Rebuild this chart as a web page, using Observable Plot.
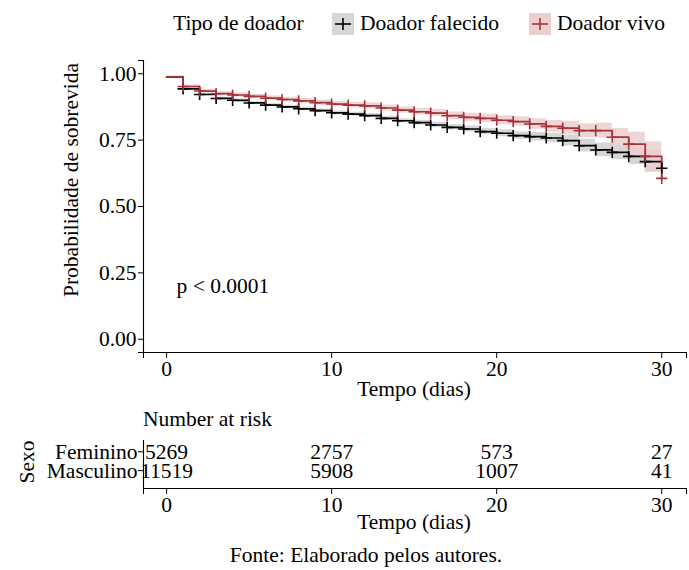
<!DOCTYPE html>
<html>
<head>
<meta charset="utf-8">
<script src="https://cdn.jsdelivr.net/npm/d3@7"></script>
<script src="https://cdn.jsdelivr.net/npm/@observablehq/plot@0.6"></script>
<style>
  body { margin: 0; background: #fff; }
  #wrap { position: relative; width: 689px; height: 570px; font-family: "Liberation Serif", "DejaVu Serif", serif; color: #000; overflow: hidden; }
  .t { position: absolute; white-space: nowrap; font-size: 21.5px; line-height: 1; }
  .svgbox { position: absolute; left: 0; }
</style>
</head>
<body>
<div id="wrap"></div>
<script>
// ---- data ----
const tempo = [0,1,2,3,4,5,6,7,8,9,10,11,12,13,14,15,16,17,18,19,20,21,22,23,24,25,26,27,28,29,30];
const grupos = ["Doador falecido", "Doador vivo"];
const sFalecido = [0.988,0.943,0.922,0.907,0.900,0.890,0.882,0.875,0.868,0.861,0.853,0.848,0.842,0.832,0.823,0.816,0.807,0.798,0.792,0.782,0.776,0.767,0.763,0.758,0.748,0.729,0.713,0.704,0.689,0.669,0.644];
const sVivo     = [0.988,0.952,0.935,0.925,0.920,0.915,0.908,0.903,0.898,0.891,0.886,0.882,0.879,0.871,0.863,0.857,0.852,0.842,0.836,0.832,0.825,0.820,0.811,0.802,0.795,0.786,0.786,0.761,0.735,0.689,0.606];
const icFalecido = [0.003,0.004,0.004,0.005,0.005,0.005,0.005,0.006,0.006,0.006,0.007,0.007,0.007,0.008,0.008,0.009,0.010,0.010,0.011,0.012,0.013,0.014,0.016,0.018,0.020,0.024,0.026,0.028,0.031,0.040,0.045];
const icVivo     = [0.004,0.006,0.007,0.007,0.008,0.008,0.008,0.009,0.009,0.010,0.010,0.010,0.011,0.011,0.012,0.012,0.013,0.014,0.015,0.016,0.017,0.018,0.020,0.022,0.026,0.026,0.028,0.033,0.045,0.055,0.060];
const sexo = ["Feminino", "Masculino"];
const riscoTempo = [0, 10, 20, 30];
const riscoFeminino = [5269, 2757, 573, 27];
const riscoMasculino = [11519, 5908, 1007, 41];
const ticksX = [0, 10, 20, 30];
const ticksY = [0, 0.25, 0.5, 0.75, 1];
const pValor = "p < 0.0001";

// ---- build tables ----
const serieS = [sFalecido, sVivo];
const serieIC = [icFalecido, icVivo];
const km = [];
grupos.forEach((g, gi) => {
  tempo.forEach((t, i) => {
    km.push({grupo: g, t, s: serieS[gi][i], lo: serieS[gi][i] - serieIC[gi][i], hi: serieS[gi][i] + serieIC[gi][i]});
  });
});
const censura = km.filter(d => d.t > 0);
const risco = [];
sexo.forEach((sx, si) => {
  const vals = si === 0 ? riscoFeminino : riscoMasculino;
  riscoTempo.forEach((t, i) => risco.push({sexo: sx, yv: sexo.length - si, t, n: vals[i]}));
});

const lineColors = ["#000000", "#a8323a"];
const bandColors = ["#d6d6d6", "#ebcfcf"];
const xDomain = [-1.4, 31.5];
const FS = 21.5;
const font = {fontFamily: "Liberation Serif, DejaVu Serif, serif", fontSize: FS + "px", background: "#fff", color: "#000"};

const wrap = document.getElementById("wrap");
function addText(txt, left, top, extra) {
  const d = document.createElement("div");
  d.className = "t";
  d.textContent = txt;
  d.style.left = left + "px";
  d.style.top = top + "px";
  if (extra) Object.assign(d.style, extra);
  wrap.appendChild(d);
  return d;
}

// ---- main KM plot ----
const main = Plot.plot({
  width: 689, height: 405,
  marginTop: 60, marginLeft: 143, marginRight: 3, marginBottom: 53,
  style: font,
  x: {domain: xDomain},
  y: {domain: [-0.05, 1.05]},
  color: {domain: grupos, range: lineColors},
  marks: [
    Plot.areaY(km.filter(d => d.grupo === grupos[0]), {x: "t", y1: "lo", y2: "hi", fill: bandColors[0], curve: "step-after"}),
    Plot.areaY(km.filter(d => d.grupo === grupos[1]), {x: "t", y1: "lo", y2: "hi", fill: bandColors[1], fillOpacity: 0.85, curve: "step-after"}),
    Plot.line(km, {x: "t", y: "s", z: "grupo", stroke: "grupo", strokeWidth: 1.7, curve: "step-after"}),
    Plot.dot(censura, {x: "t", y: "s", stroke: "grupo", symbol: "plus", r: 3.7, strokeWidth: 1.6}),
    Plot.text([pValor], {x: 0.6, y: 0.2, text: d => d, textAnchor: "start", fontSize: FS}),
    Plot.ruleX([xDomain[0]], {strokeWidth: 1.1}),
    Plot.ruleY([-0.05], {strokeWidth: 1.1}),
    Plot.axisX({ticks: ticksX, tickSize: 6, tickPadding: 2, label: null, fontSize: FS}),
    Plot.axisX({ticks: xDomain, tickSize: 6, tickFormat: () => "", label: null}),
    Plot.axisY({ticks: ticksY, tickFormat: d3.format(".2f"), tickSize: 5, tickPadding: 2, label: null, fontSize: FS}),
    Plot.axisY({ticks: [-0.05, 1.05], tickSize: 5, tickFormat: () => "", label: null})
  ]
});
main.classList.add("svgbox");
main.style.top = "0px";
wrap.appendChild(main);

// ---- risk table ----
const tabela = Plot.plot({
  width: 689, height: 100,
  marginTop: 10, marginLeft: 143, marginRight: 3, marginBottom: 42,
  style: font,
  x: {domain: xDomain},
  y: {domain: [0.05, 2.6]},
  marks: [
    Plot.text(risco, {x: "t", y: "yv", text: d => String(d.n), fontSize: FS}),
    Plot.ruleX([xDomain[0]], {strokeWidth: 1.1}),
    Plot.ruleY([0.05], {strokeWidth: 1.1}),
    Plot.axisX({ticks: ticksX, tickSize: 6, tickPadding: 2, label: null, fontSize: FS}),
    Plot.axisX({ticks: xDomain, tickSize: 6, tickFormat: () => "", label: null}),
    Plot.axisY({ticks: sexo.map((s, i) => sexo.length - i), tickFormat: v => sexo[sexo.length - v], tickSize: 5, tickPadding: 1, label: null, fontSize: FS})
  ]
});
tabela.classList.add("svgbox");
tabela.style.top = "430px";
wrap.appendChild(tabela);

// ---- texts ----
addText("Tempo (dias)", 414, 379, {transform: "translateX(-50%)"});
addText("Tempo (dias)", 414, 512, {transform: "translateX(-50%)"});
addText("Fonte: Elaborado pelos autores.", 366, 545, {transform: "translateX(-50%)"});
addText("Number at risk", 143, 409);
addText("Probabilidade de sobrevida", 72, 180, {transform: "translate(-50%,-50%) rotate(-90deg)"});
addText("Sexo", 28, 462, {transform: "translate(-50%,-50%) rotate(-90deg)"});

// ---- legend ----
addText("Tipo de doador", 173, 13);
function key(left, bg, col, label) {
  const box = document.createElement("div");
  box.style.cssText = `position:absolute;left:${left}px;top:13px;width:22px;height:22px;background:${bg};`;
  box.innerHTML = `<svg width="22" height="22"><line x1="3" y1="11" x2="19" y2="11" stroke="${col}" stroke-width="1.6"/><line x1="11" y1="5" x2="11" y2="17" stroke="${col}" stroke-width="1.6"/></svg>`;
  wrap.appendChild(box);
  addText(label, left + 28, 13);
}
key(332, bandColors[0], lineColors[0], grupos[0]);
key(529, bandColors[1], lineColors[1], grupos[1]);
</script>
</body>
</html>
